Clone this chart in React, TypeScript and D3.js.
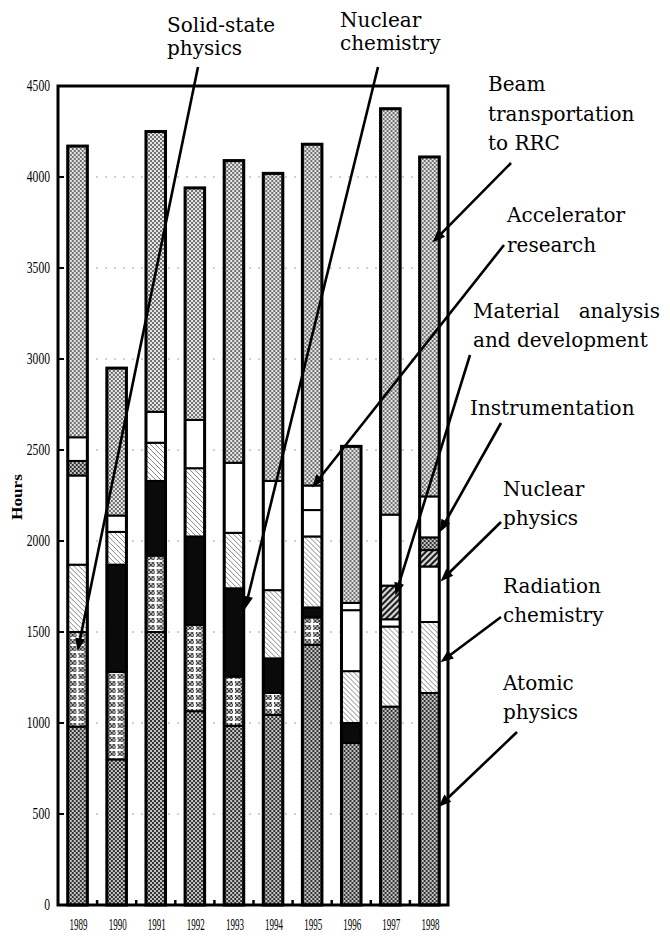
import React from 'react';
import * as d3 from 'd3';

// hours per year (bottom to top)
const years = ['1989', '1990', '1991', '1992', '1993', '1994', '1995', '1996', '1997', '1998'];
const atomicPhysics = [980, 800, 1500, 1065, 985, 1045, 1430, 890, 1090, 1165];
const solidStatePhysics = [520, 480, 420, 475, 270, 120, 150, 0, 0, 0];
const nuclearChemistry = [0, 590, 410, 485, 485, 190, 55, 110, 0, 0];
const radiationChemistry = [370, 180, 210, 375, 305, 375, 390, 285, 440, 390];
const nuclearPhysics = [490, 90, 170, 265, 385, 600, 145, 335, 40, 305];
const materialAnalysis = [0, 0, 0, 0, 0, 0, 0, 0, 185, 90];
const instrumentation = [80, 0, 0, 0, 0, 0, 0, 0, 0, 70];
const acceleratorResearch = [130, 0, 0, 0, 0, 0, 135, 40, 390, 225];
const beamTransportation = [1600, 810, 1540, 1275, 1660, 1690, 1875, 860, 2230, 1865];
const yTicks = [0, 500, 1000, 1500, 2000, 2500, 3000, 3500, 4000, 4500];

const keys = ['atomic', 'solid', 'nucChem', 'radChem', 'nucPhys', 'material', 'instr', 'accel', 'beam'];
const seriesValues = [
  atomicPhysics, solidStatePhysics, nuclearChemistry, radiationChemistry, nuclearPhysics,
  materialAnalysis, instrumentation, acceleratorResearch, beamTransportation,
];
const fills: Record<string, string> = {
  atomic: 'url(#pDark)',
  solid: 'url(#pGrid)',
  nucChem: '#0a0a0a',
  radChem: 'url(#pHatch)',
  nucPhys: '#ffffff',
  material: 'url(#pDense)',
  instr: 'url(#pDark)',
  accel: '#ffffff',
  beam: 'url(#pLight)',
};

// callouts: text lines, and the point of the bar the arrow points at
const callouts = [
  { lines: ['Solid-state', 'physics'], tx: 167, ty: 32, lh: 23, from: [198, 67], year: '1989', value: 1394, dx: 0 },
  { lines: ['Nuclear', 'chemistry'], tx: 340, ty: 27, lh: 23, from: [378, 67], year: '1993', value: 1625, dx: 11 },
  { lines: ['Beam', 'transportation', 'to RRC'], tx: 488, ty: 91, lh: 29.5, from: [511, 163], year: '1998', value: 3640, dx: 3 },
  { lines: ['Accelerator', 'research'], tx: 507, ty: 222, lh: 30, from: [504, 245], year: '1995', value: 2294, dx: 0 },
  { lines: ['Material   analysis', 'and development'], tx: 473, ty: 318, lh: 29, from: [470, 355], year: '1997', value: 1700, dx: 5 },
  { lines: ['Instrumentation'], tx: 470, ty: 415, lh: 29, from: [501, 423], year: '1998', value: 2047, dx: 10 },
  { lines: ['Nuclear', 'physics'], tx: 503, ty: 496, lh: 29, from: [501, 522], year: '1998', value: 1778, dx: 11 },
  { lines: ['Radiation', 'chemistry'], tx: 503, ty: 593, lh: 29, from: [501, 617], year: '1998', value: 1334, dx: 11 },
  { lines: ['Atomic', 'physics'], tx: 503, ty: 690, lh: 29, from: [517, 732], year: '1998', value: 538, dx: 9 },
];

const W = 670;
const H = 936;
const left = 58;
const right = 448;
const top = 86;
const bottom = 905;

export default function App() {
  const x = d3.scaleBand<string>().domain(years).range([left, right + 1]).paddingInner(0.5).paddingOuter(0.25);
  const y = d3.scaleLinear().domain([0, 4500]).range([bottom, top]);
  const bw = x.bandwidth();

  const table = years.map((yr, i) => {
    const row: any = { year: yr };
    keys.forEach((k, j) => (row[k] = seriesValues[j][i]));
    return row;
  });
  const stacked = d3.stack<any>().keys(keys)(table);

  const arrowHead = (x1: number, y1: number, x2: number, y2: number) => {
    const a = Math.atan2(y2 - y1, x2 - x1);
    const len = 13;
    const hw = 5;
    const bx = x2 - len * Math.cos(a);
    const by = y2 - len * Math.sin(a);
    const px = -Math.sin(a) * hw;
    const py = Math.cos(a) * hw;
    return `M${x2},${y2}L${bx + px},${by + py}L${bx - px},${by - py}Z`;
  };

  return (
    <svg width={W} height={H} style={{ position: 'absolute', left: 0, top: 0, background: '#fff' }}>
      <defs>
        <pattern id="pDark" width="4" height="4" patternUnits="userSpaceOnUse">
          <rect width="4" height="4" fill="#c4c4c4" />
          <rect width="2" height="2" fill="#333" />
          <rect x="2" y="2" width="2" height="2" fill="#333" />
        </pattern>
        <pattern id="pLight" width="4" height="4" patternUnits="userSpaceOnUse">
          <rect width="4" height="4" fill="#e6e6e6" />
          <rect width="2" height="2" fill="#707070" />
          <rect x="2" y="2" width="2" height="2" fill="#707070" />
        </pattern>
        <pattern id="pHatch" width="5" height="5" patternUnits="userSpaceOnUse">
          <rect width="5" height="5" fill="#fff" />
          <path d="M-1,-1L6,6M-1,4L1,6M4,-1L6,1" stroke="#777" strokeWidth="0.9" />
        </pattern>
        <pattern id="pDense" width="6" height="6" patternUnits="userSpaceOnUse">
          <rect width="6" height="6" fill="#e2e2e2" />
          <path d="M0,6L6,0M-1,1L1,-1M5,7L7,5" stroke="#111" strokeWidth="2" />
        </pattern>
        <pattern id="pGrid" width={bw} height="7" patternUnits="userSpaceOnUse">
          <rect width={bw} height="7" fill="url(#pDark)" />
          <rect x={bw / 2 - 1} width="2" height="7" fill="#fff" />
          <rect x="3" y="0" width={bw - 6} height="2" fill="#fff" />
        </pattern>
      </defs>

      {/* dotted grid */}
      {yTicks.slice(1, -1).map(t => (
        <line key={t} x1={left + 2} x2={right - 2} y1={y(t)} y2={y(t)} stroke="#8a8a8a" strokeWidth={0.8} strokeDasharray="2 7" />
      ))}

      {/* bars */}
      {years.map((yr, i) => (
        <g key={yr} transform={`translate(${x(yr)},0)`}>
          {stacked.map(s => {
            const d = s[i];
            if (d[1] - d[0] <= 0) return null;
            return (
              <rect key={s.key} x={0} width={bw} y={y(d[1])} height={y(d[0]) - y(d[1])}
                fill={fills[s.key]} stroke="#000" strokeWidth={2} />
            );
          })}
          <rect x={0} width={bw} y={y(stacked[stacked.length - 1][i][1])}
            height={bottom - y(stacked[stacked.length - 1][i][1])} fill="none" stroke="#000" strokeWidth={3} />
        </g>
      ))}

      {/* frame */}
      <rect x={left} y={top} width={right - left} height={bottom - top} fill="none" stroke="#000" strokeWidth={3} />
      {yTicks.slice(1, -1).map(t => (
        <line key={t} x1={left} x2={left + 6} y1={y(t)} y2={y(t)} stroke="#000" strokeWidth={2} />
      ))}
      {years.slice(0, -1).map(yr => {
        const bx = (x(yr) as number) + bw + (x.step() - bw) / 2;
        return <line key={yr} x1={bx} x2={bx} y1={bottom} y2={bottom - 5} stroke="#000" strokeWidth={2.5} />;
      })}

      {/* y tick labels */}
      {yTicks.map(t => (
        <text key={t} x={50} y={y(t) + 5} textAnchor="end" fontFamily="Liberation Serif" fontSize={16}
          textLength={String(t).length * 5.8} lengthAdjust="spacingAndGlyphs">{t}</text>
      ))}
      {/* year labels */}
      {years.map(yr => (
        <text key={yr} x={(x(yr) as number) + bw / 2 + 1} y={930} textAnchor="middle" fontFamily="Liberation Serif"
          fontSize={17} textLength={18} lengthAdjust="spacingAndGlyphs">{yr}</text>
      ))}
      <text transform={`translate(22,497) rotate(-90)`} textAnchor="middle" fontFamily="Liberation Serif"
        fontWeight="bold" fontSize={15} textLength={46} lengthAdjust="spacingAndGlyphs">Hours</text>

      {/* callouts */}
      {callouts.map(c => {
        const tx = (x(c.year) as number) + bw / 2 + c.dx;
        const ty = y(c.value);
        const [fx, fy] = c.from;
        const a = Math.atan2(ty - fy, tx - fx);
        return (
          <g key={c.lines[0] + c.ty}>
            <line x1={fx} y1={fy} x2={tx - 8 * Math.cos(a)} y2={ty - 8 * Math.sin(a)} stroke="#000" strokeWidth={2.6} />
            <path d={arrowHead(fx, fy, tx, ty)} fill="#000" />
            {c.lines.map((ln, k) => (
              <text key={k} x={c.tx} y={c.ty + k * c.lh} fontFamily="DejaVu Serif" fontSize={20}
                style={{ whiteSpace: 'pre' }} fill="#000">{ln}</text>
            ))}
          </g>
        );
      })}
    </svg>
  );
}
